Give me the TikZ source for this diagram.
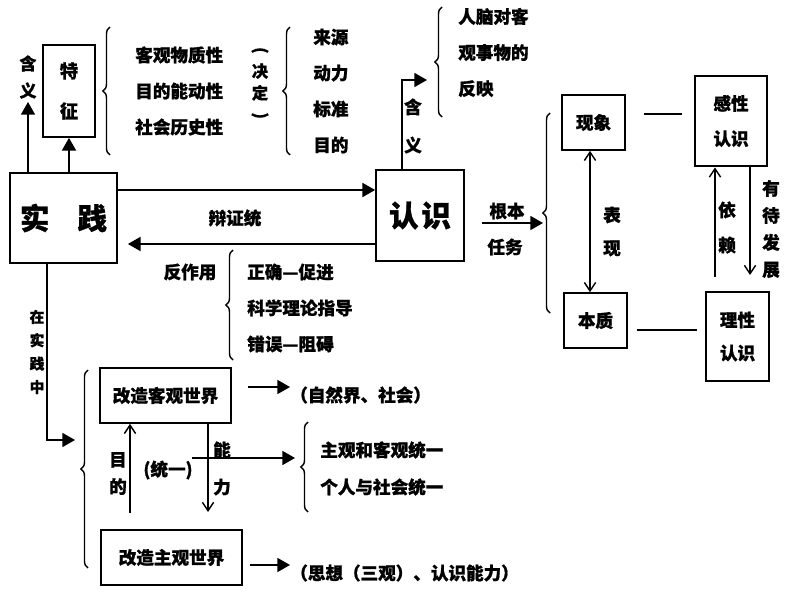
\documentclass[tikz,border=0pt]{standalone}
\usepackage{fontspec}
\setmainfont{Noto Sans CJK SC}[FakeBold=1]
\usepackage{tikz}
\usetikzlibrary{arrows.meta, decorations.pathreplacing, positioning, calc}

\begin{document}
\begin{tikzpicture}[
    x=0.025cm, y=-0.025cm,
    block/.style={rectangle, draw, line width=1.2pt, inner sep=0pt, align=center, font=\fontsize{12.5}{25}\selectfont\bfseries},
    bigblock/.style={block, font=\fontsize{21}{25}\selectfont\bfseries},
    txt/.style={inner sep=0pt, align=left, font=\fontsize{12.5}{25.6}\selectfont\bfseries},
    vtxt/.style={inner sep=0pt, align=center},
    arrow/.style={-{Triangle[length=9pt, width=10pt]}, line width=1pt},
    openarrow/.style={-{Straight Barb[length=6pt, width=8pt]}, line width=1pt},
    twoway/.style={{Straight Barb[length=6pt, width=8pt]}-{Straight Barb[length=6pt, width=8pt]}, line width=1pt},
    bracel/.style={decorate, decoration={brace, amplitude=5pt}, line width=1pt},
    link/.style={line width=1pt},
]
    \useasboundingbox (0,0) rectangle (794,596);

    % practice and its features
    \node[bigblock, minimum width=2.675cm, minimum height=2.25cm] (practice) at (63.5,218) {实\hspace{0.7cm}践};
    \node[block, minimum width=1.3cm, minimum height=2.3cm, font=\fontsize{13}{28.5}\selectfont\bfseries] (tezheng) at (69,91) {特\\征};
    \node[vtxt, font=\fontsize{12}{19.2}\selectfont\bfseries] (hanyia) at (28,77) {含\\义};
    \coordinate (hanyitip) at (28,102);
    \draw[arrow] (hanyitip |- practice.north) -- (hanyitip);
    \draw[arrow] (tezheng |- practice.north) -- (tezheng.south);

    \draw[bracel] (110,155) -- (110,27);
    \node[txt, anchor=west] (traits) at (135,91) {客观物质性\\目的能动性\\社会历史性};
    \node[vtxt, font=\fontsize{11.5}{15.5}\selectfont\bfseries] (decide) at (260,84) {\rotatebox[origin=c]{-90}{(}\\决\\定\\\rotatebox[origin=c]{-90}{)}};
    \draw[bracel] (290,155) -- (290,27);
    \node[txt, anchor=west] (roles) at (313,91) {来源\\动力\\标准\\目的};

    % cognition
    \node[bigblock, minimum width=2.2cm, minimum height=2.275cm] (cognition) at (420,215.5) {认\hspace{2pt}识};
    \draw[arrow] (practice.east |- 0,190) -- (cognition.west |- 0,190);
    \draw[arrow] (cognition.west |- 0,244) -- ($(practice.east |- 0,244)+(10,0)$);
    \node[txt] (bianzheng) at (235,218) {辩证统};

    \node[vtxt, font=\fontsize{12.5}{27}\selectfont\bfseries] (hanyib) at (413,126) {含\\义};
    \coordinate (meanend) at (427,80);
    \draw[arrow] ($(cognition.north)+(-18,0)$) |- (meanend);
    \draw[bracel] (442,117) -- (442,7);
    \node[txt, anchor=west] (reflect) at (458,52.5) {人脑对客\\观事物的\\反映};

    % task of cognition
    \coordinate (taskstart) at (482,223);
    \coordinate (taskend) at (543,223);
    \draw[arrow] (taskstart) -- (taskend);
    \node[txt] (genben) at (507,211) {根本};
    \node[txt] (renwu) at (505,247) {任务};
    \draw[bracel] (550,313) -- (550,113);

    \node[block, minimum width=1.575cm, minimum height=1.375cm] (phenom) at (593.5,122.5) {现象};
    \node[block, minimum width=1.575cm, minimum height=1.375cm] (essence) at (595.5,320.5) {本质};
    \draw[twoway] (phenom.south -| 590,0) -- (essence.north -| 590,0);
    \node[vtxt, font=\fontsize{12.5}{23.5}\selectfont\bfseries] (biaoxian) at (612,231.5) {表\\现};

    \node[block, line width=2pt, minimum width=1.8cm, minimum height=2.25cm] (perceptual) at (731,121) {感性\\认识};
    \node[block, minimum width=1.575cm, minimum height=2.225cm, font=\fontsize{12.5}{23.5}\selectfont\bfseries] (rational) at (737.5,336.5) {理性\\认识};
    \draw[link, shorten <=0.45cm, shorten >=0.3cm] (phenom.east |- 0,114) -- (perceptual.west |- 0,114);
    \draw[link, shorten <=0.225cm, shorten >=0.2cm] (essence.east |- 0,330) -- (rational.west |- 0,330);

    \draw[openarrow] ($(rational.north -| 715,0)+(0,-14)$) -- (perceptual.south -| 715,0);
    \node[vtxt, font=\fontsize{12.5}{25}\selectfont\bfseries] (yilai) at (727,227.5) {依\\赖};
    \coordinate (devend) at (750,275);
    \draw[openarrow] (perceptual.south -| devend) -- (devend);
    \node[vtxt, font=\fontsize{12.5}{19.2}\selectfont\bfseries] (youdai) at (771,229) {有\\待\\发\\展};

    % reaction of cognition
    \node[txt] (reaction) at (190,272) {反作用};
    \draw[bracel] (233,360) -- (233,250);
    \node[txt, anchor=west] (guide) at (247,308) {正确—促进\\科学理论指导\\错误—阻碍};

    % in practice
    \node[vtxt, font=\fontsize{10.5}{16.6}\selectfont\bfseries] (zaisj) at (37,352) {在\\实\\践\\中};
    \coordinate (practo) at (75,440);
    \draw[arrow] (practice.south -| 47,0) |- (practo);
    \draw[bracel] (88,568) -- (88,370);

    \node[block, minimum width=3.275cm, minimum height=1.375cm] (transobj) at (165.5,395.5) {改造客观世界};
    \node[block, minimum width=3.525cm, minimum height=1.375cm] (transsub) at (171.5,557.5) {改造主观世界};

    \node[txt, anchor=west] (nature) at (290,395) {（自然界、社会）};
    \coordinate (natstart) at (248,387);
    \draw[arrow] (natstart) -- (nature.west |- natstart);

    \coordinate (goalstart) at (130,513);
    \draw[openarrow] (goalstart) -- (goalstart |- transobj.south);
    \node[vtxt, font=\fontsize{12.5}{19.2}\selectfont\bfseries] (mudi) at (118,473.5) {目\\的};
    \coordinate (abilend) at (208,512);
    \draw[openarrow] (abilend |- transobj.south) -- (abilend);
    \node[vtxt, font=\fontsize{12.5}{26.3}\selectfont\bfseries] (nengli) at (222,468.5) {能\\力};

    \node[txt] (tongyi) at (168,470) {(统一)};
    \coordinate (unitystart) at (192,458);
    \coordinate (unityend) at (295,458);
    \draw[arrow] (unitystart) -- (unityend);
    \draw[bracel] (308,512) -- (308,422);
    \node[txt, anchor=west, font=\fontsize{12.5}{26.3}\selectfont\bfseries] (unity) at (320,468.5) {主观和客观统一\\个人与社会统一};

    \node[txt, anchor=west] (thought) at (290,573) {（思想（三观）、认识能力）};
    \coordinate (thinkstart) at (250,565);
    \draw[arrow] (thinkstart) -- (thought.west |- thinkstart);
\end{tikzpicture}
\end{document}
